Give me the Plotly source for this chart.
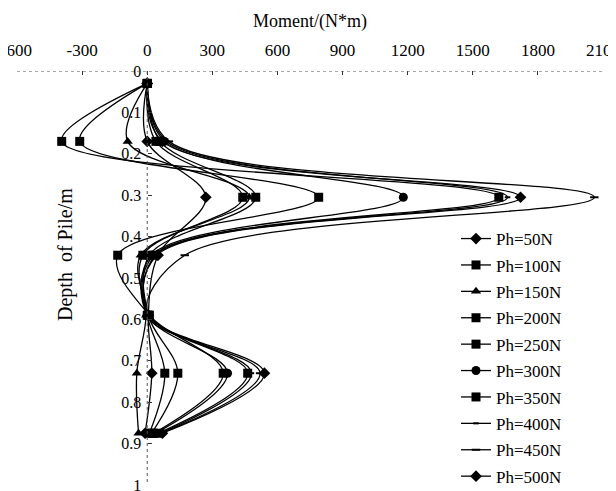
import plotly.graph_objects as go

depth = [0.03, 0.17, 0.305, 0.445, 0.59, 0.73, 0.875]

series_names = ["Ph=50N", "Ph=100N", "Ph=150N", "Ph=200N", "Ph=250N",
                "Ph=300N", "Ph=350N", "Ph=400N", "Ph=450N", "Ph=500N"]

m_50 = [0, 0, 270, 50, 5, 21, -10]
m_100 = [0, 40, 440, -20, 0, 81, 10]
m_150 = [0, -90, 470, -30, -5, -48, -40]
m_200 = [0, 60, 500, 10, 5, 141, 20]
m_250 = [0, -311, 790, -136, 10, 350, 30]
m_300 = [0, 80, 1180, 20, 0, 370, 40]
m_350 = [0, -394, 1620, 30, 5, 463, 50]
m_400 = [0, 90, 1660, 40, 10, 480, 60]
m_450 = [0, 100, 2060, 173, 0, 520, 65]
m_500 = [0, 70, 1720, 45, 5, 540, 70]

x_ticks = [-600, -300, 0, 300, 600, 900, 1200, 1500, 1800, 2100]
x_ticktext = ["\u00a0600", "-300", "0", "300", "600", "900", "1200", "1500", "1800", "2100"]
y_ticks = [0, 0.1, 0.2, 0.3, 0.4, 0.5, 0.6, 0.7, 0.8, 0.9, 1]

values = [m_50, m_100, m_150, m_200, m_250, m_300, m_350, m_400, m_450, m_500]
symbols = ["diamond", "square", "triangle-up", "square", "square",
           "circle", "square", "line-ew", "line-ew", "diamond"]
sizes = [9, 9, 9, 9, 9, 9, 9, 4, 6, 9]

FONT = "Liberation Serif, Times New Roman, serif"

# page offset of the figure (default body margin)
OFF = 8
PL, PR, PT, PB = 17, 603, 71, 485  # plot-area edges on the page
W, H = 616, 491
pw, ph = PR - PL, PB - PT

fig = go.Figure()
for i, (name, vals) in enumerate(zip(series_names, values)):
    fig.add_trace(go.Scatter(
        x=vals, y=depth, name=name, mode="lines+markers",
        line=dict(color="black", width=1.3, shape="spline"),
        marker=dict(symbol=symbols[i], size=sizes[i], color="black",
                    line=dict(color="black", width=2 if symbols[i] == "line-ew" else 0)),
        legendgroup=name,
    ))

# dotted axis lines
fig.add_shape(type="line", xref="x", yref="y", x0=-600, x1=2100, y0=0, y1=0,
              line=dict(color="#555", width=1, dash="dot"))
fig.add_shape(type="line", xref="x", yref="y", x0=0, x1=0, y0=0, y1=1,
              line=dict(color="#555", width=1, dash="dot"))

fig.add_annotation(text="Moment/(N*m)", xref="paper", yref="paper",
                   x=(310 - PL) / pw, y=1 + (PT - 22) / ph, xanchor="center", yanchor="middle",
                   showarrow=False, font=dict(family=FONT, size=18, color="black"))
fig.add_annotation(text="Depth\u00a0 of Pile/m", xref="paper", yref="paper",
                   x=(65 - PL) / pw, y=1 - (255 - PT) / ph, textangle=-90,
                   xanchor="center", yanchor="middle",
                   showarrow=False, font=dict(family=FONT, size=20, color="black"))

fig.update_layout(
    width=W, height=H,
    margin=dict(l=PL - OFF, r=W - PR + OFF, t=PT - OFF, b=H - PB + OFF, autoexpand=False),
    paper_bgcolor="white", plot_bgcolor="white",
    font=dict(family=FONT, size=16, color="black"),
    showlegend=True,
    legend=dict(x=(456 - PL) / pw, y=1 - (221 - PT) / ph,
                xanchor="left", yanchor="top", tracegroupgap=1.3,
                bgcolor="rgba(0,0,0,0)", font=dict(family=FONT, size=17)),
    xaxis=dict(range=[-600, 2100], side="top", tickvals=x_ticks, ticktext=x_ticktext,
               ticks="inside", ticklen=4, tickcolor="#333", showgrid=False,
               zeroline=False, showline=False, ticklabelstandoff=11, automargin=False,
               ticklabeloverflow="allow",
               tickfont=dict(family=FONT, size=17)),
    yaxis=dict(range=[1, 0], autorange=False, tickvals=y_ticks,
               anchor="free", position=600 / 2700, automargin=False,
               ticks="inside", ticklen=4, tickcolor="#333", showgrid=False,
               zeroline=False, showline=False, ticklabelstandoff=6,
               ticklabeloverflow="allow",
               tickfont=dict(family=FONT, size=16)),
)

fig.write_html("out.html")
